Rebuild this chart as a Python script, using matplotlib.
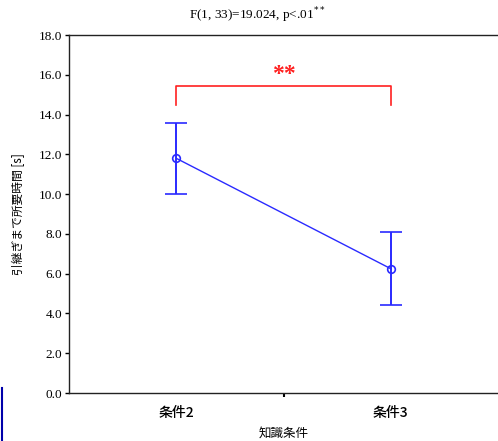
import matplotlib
matplotlib.use("Agg")
import matplotlib.pyplot as plt
from matplotlib.lines import Line2D

conditions = ["条件2", "条件3"]
means = [11.8, 6.25]
errors = [1.8, 1.83]
yticks = [0.0, 2.0, 4.0, 6.0, 8.0, 10.0, 12.0, 14.0, 16.0, 18.0]
bracket_top = 15.45
bracket_foot = 14.5

serif = ["Liberation Serif", "DejaVu Serif"]
cjk = ["Noto Sans CJK JP", "DejaVu Sans"]

fig = plt.figure(figsize=(4.98, 4.41), dpi=100)
ax = fig.add_axes([69 / 498, 1 - 393 / 441, 429 / 498, 358 / 441])

xs = [0.5, 1.5]
ax.errorbar(xs, means, yerr=errors, color="#2a2aff", lw=1.0, elinewidth=1.4,
            capsize=8, capthick=1.4, marker="o", ms=5.5, mfc="none", mew=1.2)

# significance bracket
ax.plot([xs[0], xs[0], xs[1], xs[1]],
        [bracket_foot, bracket_top, bracket_top, bracket_foot],
        color="#ff2020", lw=1.2)
ax.text(sum(xs) / 2, bracket_top + 0.05, "**", color="#ff2020", ha="center",
        va="bottom", fontsize=17, fontweight="bold", family=serif)

ax.set_xlim(0, 2)
ax.set_ylim(0, 18)
ax.set_yticks(yticks)
ax.set_yticklabels([f"{v:.1f}" for v in yticks], family=serif, fontsize=9.5)
ax.set_xticks([1.0])
ax.set_xticklabels([""])
ax.tick_params(axis="y", length=3, width=1, pad=2)
ax.tick_params(axis="x", length=3, width=1.5)
for x, name in zip(xs, conditions):
    ax.text(x, -0.65, name, ha="center", va="top", fontsize=10,
            fontweight="medium", family=cjk)

ax.spines["right"].set_visible(False)
for s in ["left", "top", "bottom"]:
    ax.spines[s].set_linewidth(1.0)
    ax.spines[s].set_color("#222222")

fig.text(284 / 498, 1 - 433 / 441, "知識条件", ha="center", va="center",
         family=cjk, fontsize=9)
ax.set_ylabel("引継ぎまで所要時間 [s]", family=cjk, fontsize=8.5, labelpad=10)

fig.text(257 / 498, 1 - 15 / 441, r"F(1, 33)=19.024, p<.01$^{**}$",
         ha="center", va="center", fontsize=9.5, family=serif)

# stray marker at the lower left edge
fig.add_artist(Line2D([1.5 / 498, 1.5 / 498], [0, 1 - 388 / 441],
                      color="#0000aa", lw=1.5))

fig.savefig("out.png", dpi=100)
